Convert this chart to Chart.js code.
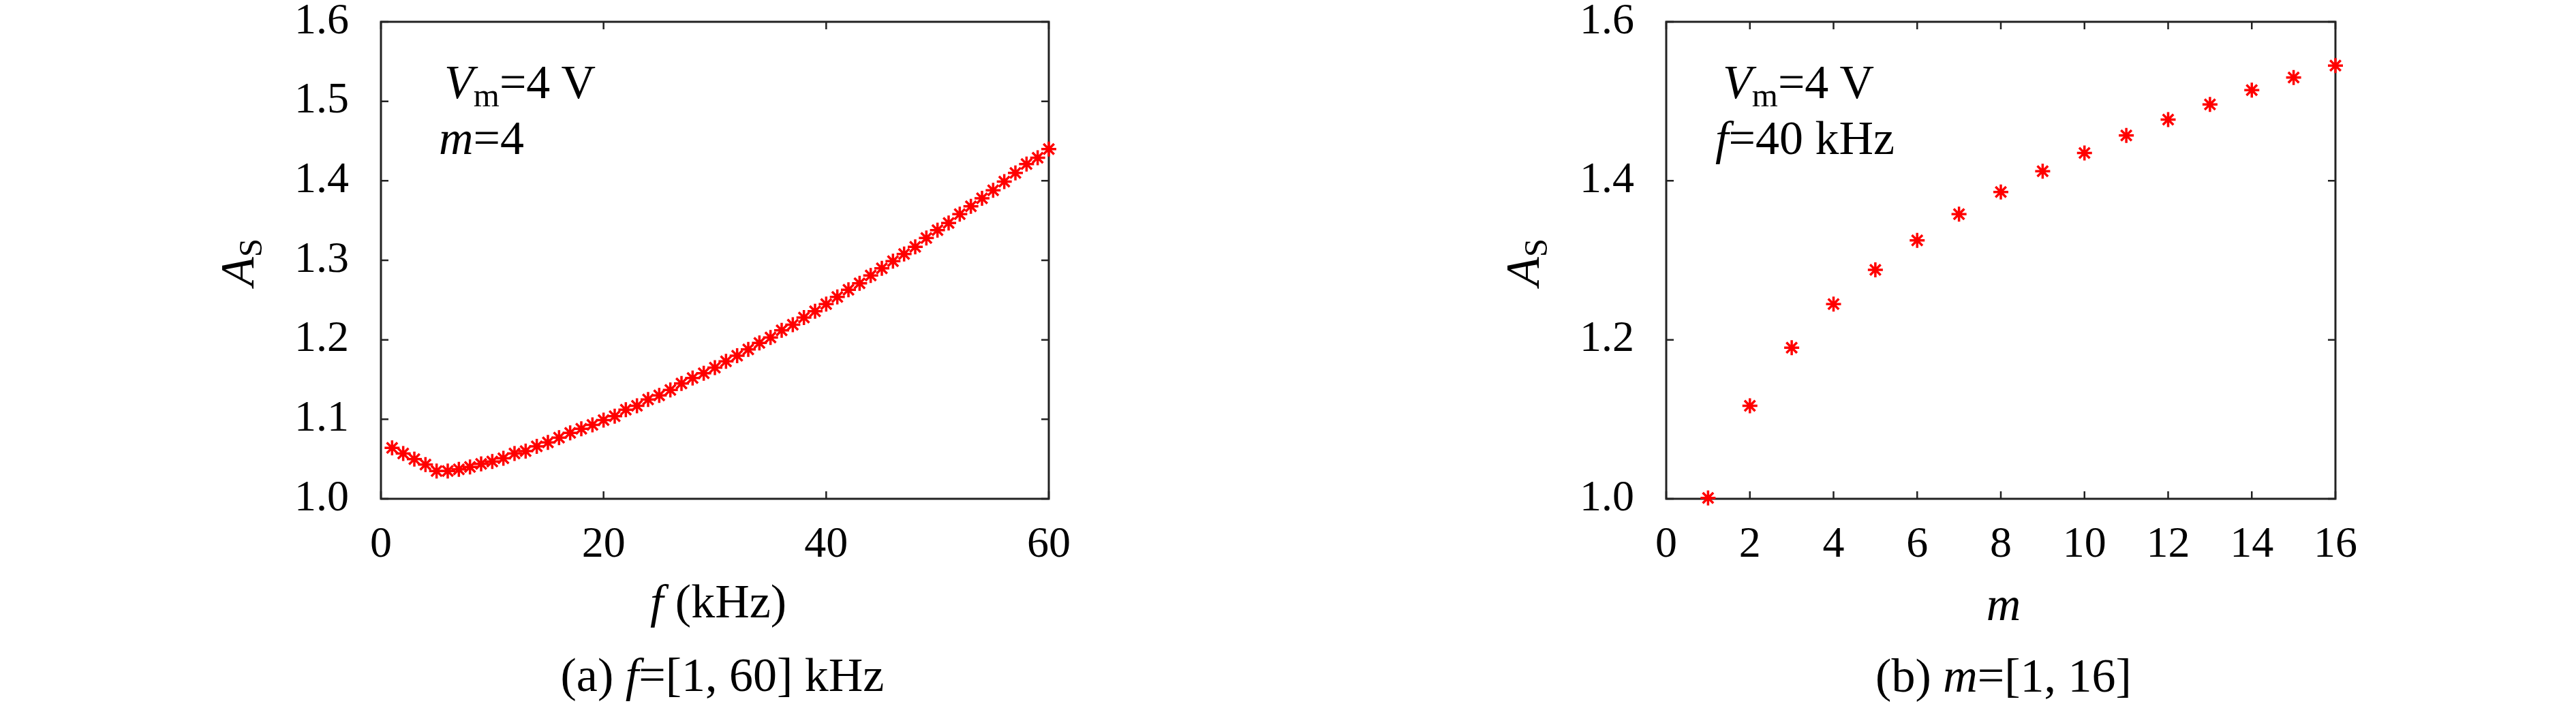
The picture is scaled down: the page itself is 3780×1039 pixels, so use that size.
<!DOCTYPE html>
<html lang="en">
<head>
<meta charset="utf-8" />
<title>A_S vs f and m</title>
<style>
  body { margin: 0; background: #fff; }
  .wrap { position: relative; width: 3780px; height: 1039px; overflow: hidden; background: #fff; }
  .plot { position: absolute; top: 0; width: 1890px; height: 1039px; }
  .txt { position: absolute; font-family: "Liberation Serif", serif; font-size: 70px; line-height: 1; white-space: nowrap; color: #000; }
  .txt sub { font-size: 0.7em; vertical-align: -0.25em; line-height: 0; }
  .ctr { transform: translateX(-50%); }
  .ylab { transform: translate(-50%, -50%) rotate(-90deg); }
</style>
</head>
<body>
<div class="wrap">
  <div class="plot" style="left:0"><canvas id="chartF"></canvas></div>
  <div class="plot" style="left:1890px"><canvas id="chartM"></canvas></div>

  <!-- left panel text -->
  <div class="txt" style="left:652px; top:86px"><i>V</i><sub>m</sub>=4 V</div>
  <div class="txt" style="left:644px; top:168px"><i>m</i>=4</div>
  <div class="txt ylab" style="left:349px; top:385px"><i>A</i><sub>S</sub></div>
  <div class="txt ctr" style="left:1054px; top:848px"><i>f</i> (kHz)</div>
  <div class="txt ctr" style="left:1060px; top:956px">(a) <i>f</i>=[1, 60] kHz</div>

  <!-- right panel text -->
  <div class="txt" style="left:2528px; top:86px"><i>V</i><sub>m</sub>=4 V</div>
  <div class="txt" style="left:2517px; top:168px"><i>f</i>=40 kHz</div>
  <div class="txt ylab" style="left:2235px; top:385px"><i>A</i><sub>S</sub></div>
  <div class="txt ctr" style="left:2940px; top:852px"><i>m</i></div>
  <div class="txt ctr" style="left:2940px; top:957px">(b) <i>m</i>=[1, 16]</div>
</div>

<script src="https://cdn.jsdelivr.net/npm/chart.js@4.4.1/dist/chart.umd.min.js"></script>
<script>
    // (a) A_S against frequency, m = 4
    const freqKHz = [1, 2, 3, 4, 5, 6, 7, 8, 9, 10, 11, 12, 13, 14, 15, 16, 17, 18, 19, 20,
        21, 22, 23, 24, 25, 26, 27, 28, 29, 30, 31, 32, 33, 34, 35, 36, 37, 38, 39, 40,
        41, 42, 43, 44, 45, 46, 47, 48, 49, 50, 51, 52, 53, 54, 55, 56, 57, 58, 59, 60];
    const asVsFreq = [1.064, 1.057, 1.050, 1.043, 1.035, 1.035, 1.037, 1.040, 1.044, 1.047,
        1.051, 1.057, 1.060, 1.066, 1.071, 1.077, 1.083, 1.088, 1.093, 1.099,
        1.104, 1.112, 1.117, 1.125, 1.130, 1.137, 1.145, 1.152, 1.158, 1.165,
        1.173, 1.180, 1.188, 1.196, 1.203, 1.212, 1.219, 1.228, 1.236, 1.245,
        1.254, 1.263, 1.271, 1.281, 1.290, 1.299, 1.308, 1.317, 1.328, 1.338,
        1.347, 1.358, 1.368, 1.378, 1.388, 1.399, 1.410, 1.421, 1.429, 1.440];

    // (b) A_S against m, f = 40 kHz
    const mValues = [1, 2, 3, 4, 5, 6, 7, 8, 9, 10, 11, 12, 13, 14, 15, 16];
    const asVsM = [1.001, 1.117, 1.190, 1.245, 1.288, 1.325, 1.358, 1.386,
        1.412, 1.435, 1.457, 1.477, 1.496, 1.514, 1.530, 1.545];

    const FONT = "'Liberation Serif', serif";
    const INK = '#222';

    // gnuplot style box with inward ticks on all four sides
    const frameTicks = {
        id: 'frameTicks',
        beforeDatasetsDraw(chart) {
            const { ctx, chartArea: a, scales } = chart;
            const len = 11;
            ctx.save();
            ctx.strokeStyle = INK;
            ctx.lineWidth = 2.5;
            scales.x.ticks.forEach(t => {
                const px = scales.x.getPixelForValue(t.value);
                ctx.beginPath();
                ctx.moveTo(px, a.bottom); ctx.lineTo(px, a.bottom - len);
                ctx.moveTo(px, a.top); ctx.lineTo(px, a.top + len);
                ctx.stroke();
            });
            scales.y.ticks.forEach(t => {
                const py = scales.y.getPixelForValue(t.value);
                ctx.beginPath();
                ctx.moveTo(a.left, py); ctx.lineTo(a.left + len, py);
                ctx.moveTo(a.right, py); ctx.lineTo(a.right - len, py);
                ctx.stroke();
            });
            ctx.lineWidth = 3;
            ctx.strokeRect(a.left, a.top, a.right - a.left, a.bottom - a.top);
            ctx.restore();
        }
    };

    function makeChart(id, xs, ys, xMax, xStep, yStep, yWidth, padRight) {
        const pts = xs.map((x, i) => ({ x: x, y: ys[i] }));
        return new Chart(document.getElementById(id), {
            type: 'scatter',
            data: {
                datasets: [{
                    data: pts,
                    pointStyle: 'star',
                    pointRadius: 11,
                    pointBorderWidth: 3.5,
                    borderColor: '#ff0000',
                    backgroundColor: '#ff0000',
                    clip: false,
                }]
            },
            options: {
                responsive: false,
                animation: false,
                events: [],
                layout: { padding: { left: 0, top: 32, right: padRight, bottom: 0 } },
                plugins: { legend: { display: false }, tooltip: { enabled: false } },
                scales: {
                    x: {
                        type: 'linear',
                        min: 0,
                        max: xMax,
                        grid: { display: false, drawTicks: false },
                        border: { display: false },
                        ticks: {
                            stepSize: xStep,
                            padding: 36,
                            maxRotation: 0,
                            autoSkip: false,
                            color: '#000',
                            font: { family: FONT, size: 64, lineHeight: 1 },
                        },
                        afterFit(s) { s.height = 307; s.paddingLeft = 0; s.paddingRight = 0; },
                    },
                    y: {
                        min: 1.0,
                        max: 1.6,
                        grid: { display: false, drawTicks: false },
                        border: { display: false },
                        ticks: {
                            stepSize: yStep,
                            padding: 47,
                            autoSkip: false,
                            color: '#000',
                            font: { family: FONT, size: 64, lineHeight: 1 },
                            callback: v => Number(v).toFixed(1),
                        },
                        afterFit(s) { s.width = yWidth; s.paddingTop = 0; s.paddingBottom = 0; },
                    }
                }
            },
            plugins: [frameTicks]
        });
    }

    const cvF = document.getElementById('chartF');
    cvF.width = 1890; cvF.height = 1039;
    const cvM = document.getElementById('chartM');
    cvM.width = 1890; cvM.height = 1039;

    makeChart('chartF', freqKHz, asVsFreq, 60, 20, 0.1, 559, 351);
    makeChart('chartM', mValues, asVsM, 16, 2, 0.2, 555, 353);
</script>
</body>
</html>
